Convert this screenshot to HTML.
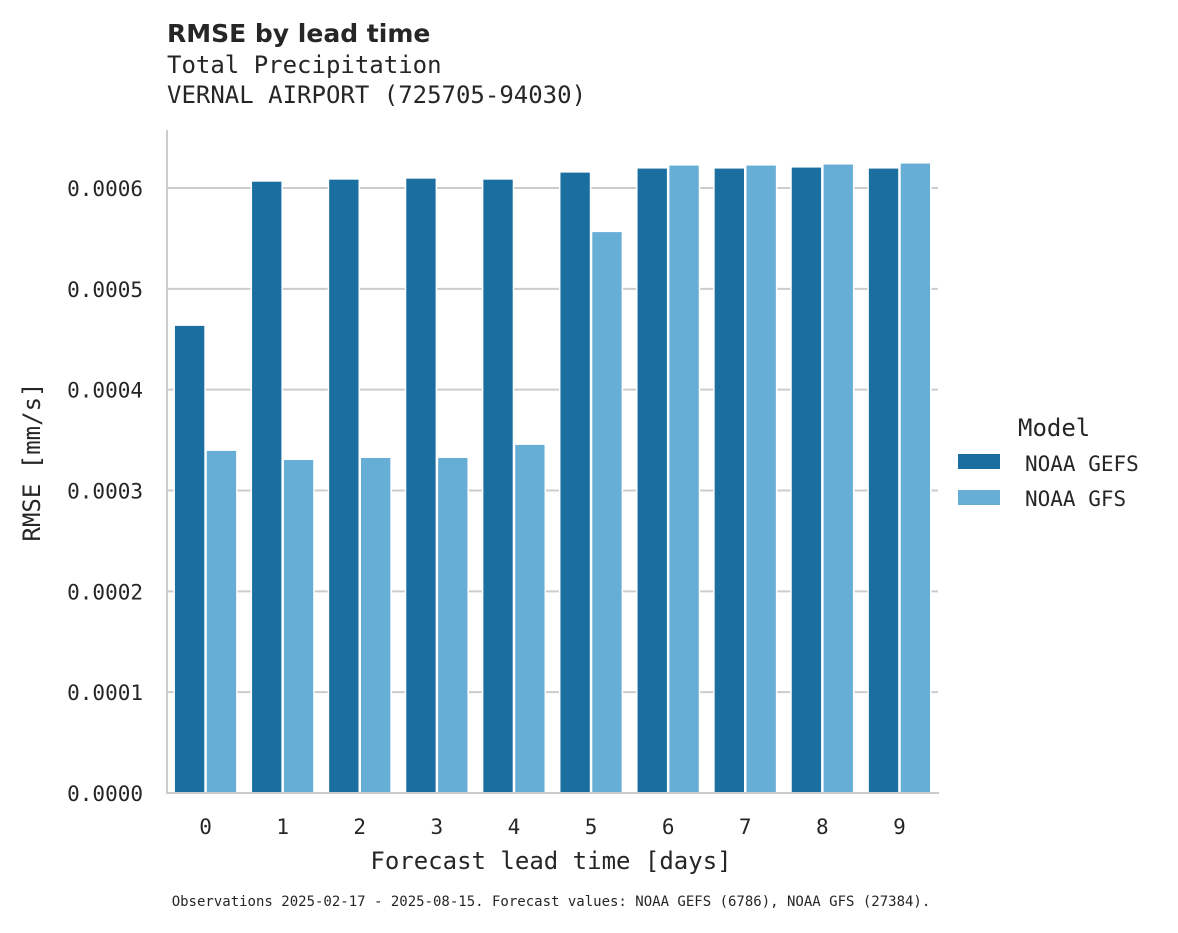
<!DOCTYPE html>
<html><head><meta charset="utf-8">
<style>
body{margin:0;background:#fff;}
svg text{font-family:"DejaVu Sans Mono","Liberation Mono",monospace;fill:#262626;}
</style></head>
<body>
<svg id="chart" width="1178" height="928" xmlns="http://www.w3.org/2000/svg">
<text x="167" y="42" style="font-family:'DejaVu Sans','Liberation Sans',sans-serif;font-weight:bold;font-size:25px">RMSE by lead time</text>
<text x="167" y="73" style="font-size:24px">Total Precipitation</text>
<text x="167" y="103" style="font-size:24px">VERNAL AIRPORT (725705-94030)</text>
<g id="grid"></g>
<g id="bars"></g>
<line x1="167" y1="130" x2="167" y2="794" stroke="#cccccc" stroke-width="2"/>
<line x1="166" y1="793" x2="939" y2="793" stroke="#cccccc" stroke-width="2"/>
<g id="ticks"></g>
<text x="551" y="869" text-anchor="middle" style="font-size:24px">Forecast lead time [days]</text>
<text transform="translate(40,462) rotate(-90)" text-anchor="middle" style="font-size:24px">RMSE [mm/s]</text>
<g>
<text x="1018" y="436" style="font-size:24px">Model</text>
<rect x="958" y="454" width="42" height="15" fill="#1a6fa0"/>
<text x="1025" y="471" style="font-size:21px">NOAA GEFS</text>
<rect x="958" y="490" width="42" height="15" fill="#67aed6"/>
<text x="1025" y="506" style="font-size:21px">NOAA GFS</text>
</g>
<text x="551" y="906" text-anchor="middle" style="font-size:14px">Observations 2025-02-17 - 2025-08-15. Forecast values: NOAA GEFS (6786), NOAA GFS (27384).</text>
</svg>
<script>
const categories = ["0","1","2","3","4","5","6","7","8","9"];
const gefsValues = [0.000464,0.000607,0.000609,0.000610,0.000609,0.000616,0.000620,0.000620,0.000621,0.000620];
const gfsValues = [0.000340,0.000331,0.000333,0.000333,0.000346,0.000557,0.000623,0.000623,0.000624,0.000625];
const yTicks = [0,0.0001,0.0002,0.0003,0.0004,0.0005,0.0006];
const yTickLabels = ["0.0000","0.0001","0.0002","0.0003","0.0004","0.0005","0.0006"];

const NS="http://www.w3.org/2000/svg";
const x0=167, x1=938, yBase=793, yTop=188, yMaxVal=0.0006;
const band=(x1-x0)/categories.length;
function yScale(v){return yBase-(v/yMaxVal)*(yBase-yTop);}
function xCenter(i){return x0+band*(i+0.5);}
function mk(tag,attrs,parent){const e=document.createElementNS(NS,tag);for(const k in attrs)e.setAttribute(k,attrs[k]);parent.appendChild(e);return e;}
const grid=document.getElementById('grid'),bars=document.getElementById('bars'),ticks=document.getElementById('ticks');
yTicks.forEach((t,i)=>{
  const y=yScale(t);
  if(t>0){const l=mk('line',{x1:x0,x2:x1,y1:y,y2:y,stroke:'#cccccc','stroke-width':2},grid);
  
  }
  const tx=mk('text',{x:143,y:y+8,'text-anchor':'end','font-size':'21px'},ticks);
  tx.textContent=yTickLabels[i];
  
  
});
const bw=band*0.4;
categories.forEach((c,i)=>{
  const cx=xCenter(i);
  const yg=yScale(gefsValues[i]);
  const r1=mk('rect',{x:cx-bw-0.5,y:yg,width:bw,height:yBase-yg,fill:'#1a6fa0',stroke:'#fff','stroke-width':1.5},bars);
  
  
  const yf=yScale(gfsValues[i]);
  const r2=mk('rect',{x:cx+0.5,y:yf,width:bw,height:yBase-yf,fill:'#67aed6',stroke:'#fff','stroke-width':1.5},bars);
  
  
  const tx=mk('text',{x:cx,y:834,'text-anchor':'middle','font-size':'21px'},ticks);
  tx.textContent=c;
  
  
});
</script>
</body></html>
